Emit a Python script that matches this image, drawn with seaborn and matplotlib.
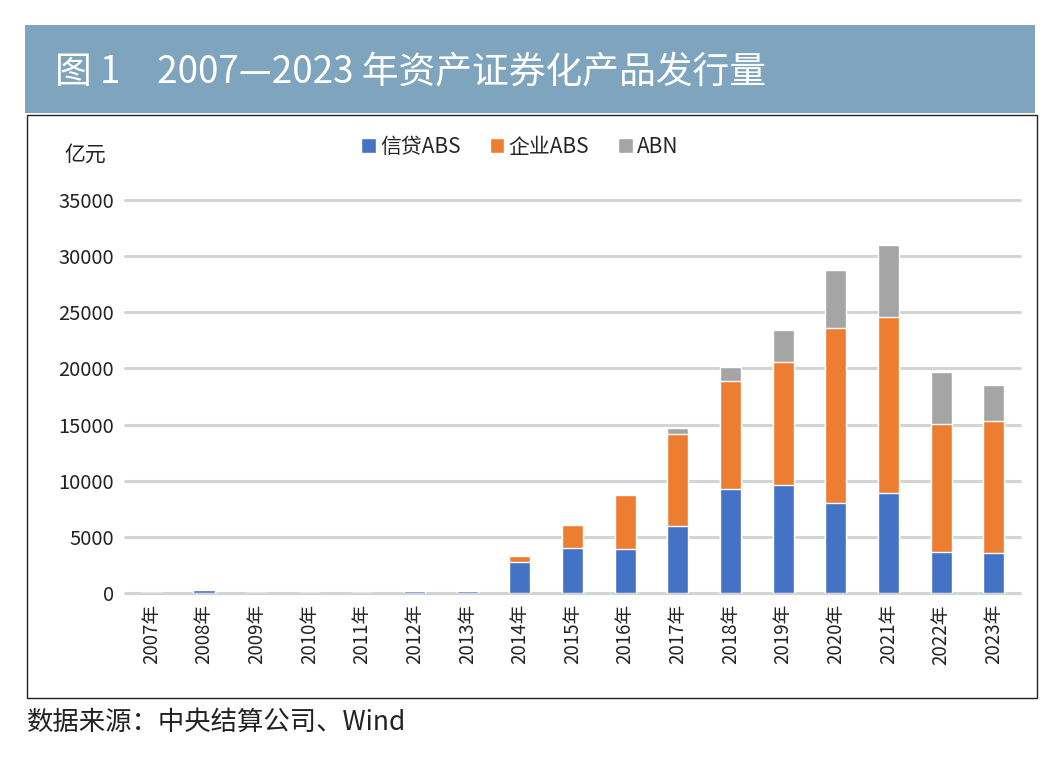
import matplotlib
matplotlib.use("Agg")
import matplotlib.pyplot as plt
import seaborn as sns
import pandas as pd
import numpy as np
from matplotlib.patches import Rectangle

sns.set_style("white")
plt.rcParams['font.family'] = ['Noto Sans CJK SC', 'DejaVu Sans']

years = ["2007年", "2008年", "2009年", "2010年", "2011年", "2012年", "2013年", "2014年",
         "2015年", "2016年", "2017年", "2018年", "2019年", "2020年", "2021年", "2022年", "2023年"]
credit_abs = [0, 300, 0, 0, 13, 190, 160, 2800, 4000, 3880, 5960, 9300, 9600, 7990, 8880, 3620, 3530]
corp_abs = [0, 0, 0, 0, 0, 30, 100, 530, 2090, 4820, 8165, 9600, 10950, 15650, 15660, 11450, 11760]
abn = [0, 0, 0, 0, 0, 0, 0, 0, 0, 100, 535, 1230, 2890, 5130, 6490, 4640, 3210]
series_names = ["信贷ABS", "企业ABS", "ABN"]
colors = ["#4472C4", "#ED7D31", "#A5A5A5"]
yticks = [0, 5000, 10000, 15000, 20000, 25000, 30000, 35000]

W, H = 1064, 765
fig = plt.figure(figsize=(W / 100, H / 100), dpi=100)

def fx(x):
    return x / W

def fy(y):
    return 1 - y / H

# title bar
fig.patches.append(Rectangle((fx(25), fy(113)), fx(1035) - fx(25), fy(25) - fy(113),
                             transform=fig.transFigure, facecolor="#7FA4BE", edgecolor="none", zorder=0))
fig.text(fx(55), fy(72), "图 1　2007—2023 年资产证券化产品发行量", color="white",
         fontsize=26.5, va="center", ha="left")
# chart box
fig.patches.append(Rectangle((fx(27), fy(698)), fx(1037) - fx(27), fy(115) - fy(698),
                             transform=fig.transFigure, facecolor="none", edgecolor="#222222",
                             linewidth=1.0, zorder=0))

ax = fig.add_axes([fx(125), fy(593), fx(1020) - fx(125), fy(200) - fy(593)])
ax.set_facecolor("none")

df = pd.DataFrame({"year": years, "c": credit_abs, "e": corp_abs, "a": abn})
df["t1"] = df["c"]
df["t2"] = df["c"] + df["e"]
df["t3"] = df["t2"] + df["a"]

for col, color, name in [("t3", colors[2], series_names[2]),
                         ("t2", colors[1], series_names[1]),
                         ("t1", colors[0], series_names[0])]:
    sns.barplot(data=df, x="year", y=col, color=color, width=0.4, ax=ax,
                saturation=1, label=name, zorder=3)

handles, labels = ax.get_legend_handles_labels()
if ax.get_legend() is not None:
    ax.get_legend().remove()

ax.set_ylim(0, 35000)
ax.set_xlim(-0.5, len(years) - 0.5)
ax.set_yticks(yticks)
ax.set_yticklabels([str(v) for v in yticks], fontsize=14.5, color="#222222")
ax.set_xticks(range(len(years)))
ax.set_xticklabels(years, rotation=90, fontsize=13.5, color="#222222")
ax.tick_params(axis="both", length=0, pad=8)
ax.set_xlabel("")
ax.set_ylabel("")
for v in yticks:
    ax.axhline(v, color="#D4D4D4", linewidth=2.2, zorder=1, clip_on=False)
for s in ax.spines.values():
    s.set_visible(False)

order = [labels.index(n) for n in series_names]
fig.legend([handles[i] for i in order], [labels[i] for i in order],
           loc="center", bbox_to_anchor=(fx(520), fy(147)), ncol=3, frameon=False,
           fontsize=15, handlelength=0.7, handleheight=0.7, handletextpad=0.2,
           columnspacing=1.4)

fig.text(fx(64), fy(155), "亿元", fontsize=15, color="#222222", va="center", ha="left")
fig.text(fx(27), fy(722), "数据来源：中央结算公司、Wind", fontsize=19, color="#222222",
         va="center", ha="left")

fig.savefig("out.png", dpi=100, facecolor="white")
